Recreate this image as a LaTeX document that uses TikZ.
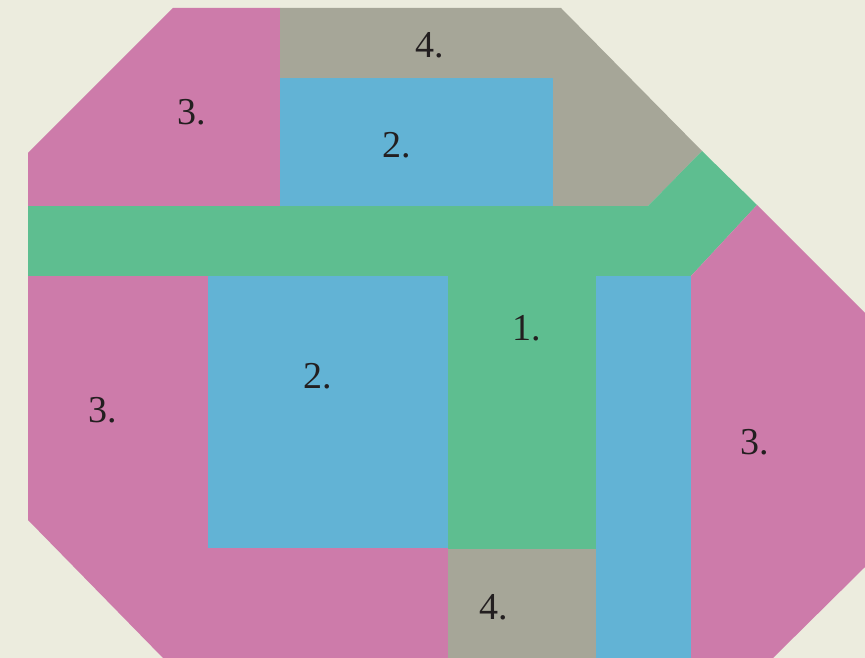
\documentclass[tikz,border=0pt]{standalone}
\usepackage{fontspec}
\setmainfont{Liberation Serif}
\definecolor{bg}{HTML}{ECECDE}
\definecolor{pinkc}{HTML}{CD7BAA}
\definecolor{grayc}{HTML}{A6A698}
\definecolor{bluec}{HTML}{62B3D5}
\definecolor{greenc}{HTML}{5EBE90}
\definecolor{txt}{HTML}{231F20}
\begin{document}
\begin{tikzpicture}[x=1pt,y=-1pt,
  lab/.style={text=txt,font=\fontsize{38}{40}\selectfont,inner sep=0pt}]
\fill[bg] (0,0) rectangle (865,658);
\useasboundingbox (0,0) rectangle (865,658);
% top-left pink
\fill[pinkc] (173,8) -- (280,8) -- (280,206) -- (28,206) -- (28,153) -- cycle;
% top gray
\fill[grayc] (280,8) -- (561,8) -- (702,151) -- (648,206) -- (553,206) -- (553,78) -- (280,78) -- cycle;
% top blue
\fill[bluec] (280,78) rectangle (553,206);
% green
\fill[greenc] (28,206) -- (648,206) -- (702,151) -- (757,205) -- (691,276) -- (596,276) -- (596,549) -- (448,549) -- (448,276) -- (28,276) -- cycle;
% left pink
\fill[pinkc] (28,276) -- (208,276) -- (208,548) -- (448,548) -- (448,658) -- (163,658) -- (28,520) -- cycle;
% middle blue
\fill[bluec] (208,276) rectangle (448,548);
% bottom gray
\fill[grayc] (448,549) rectangle (597,658);
% right blue strip
\fill[bluec] (596,276) rectangle (691,658);
% right pink
\fill[pinkc] (757,205) -- (865,313) -- (865,567) -- (773,658) -- (691,658) -- (691,276) -- cycle;
% labels
\node[lab] (l3a) at (192,112) {3.};
\node[lab] (l4a) at (430,45) {4.};
\node[lab] (l2a) at (397,145) {2.};
\node[lab] (l1) at (527,328) {1.};
\node[lab] (l2b) at (318,376) {2.};
\node[lab] (l3b) at (103,410) {3.};
\node[lab] (l3c) at (755,442) {3.};
\node[lab] (l4b) at (494,607) {4.};
\end{tikzpicture}
\end{document}
